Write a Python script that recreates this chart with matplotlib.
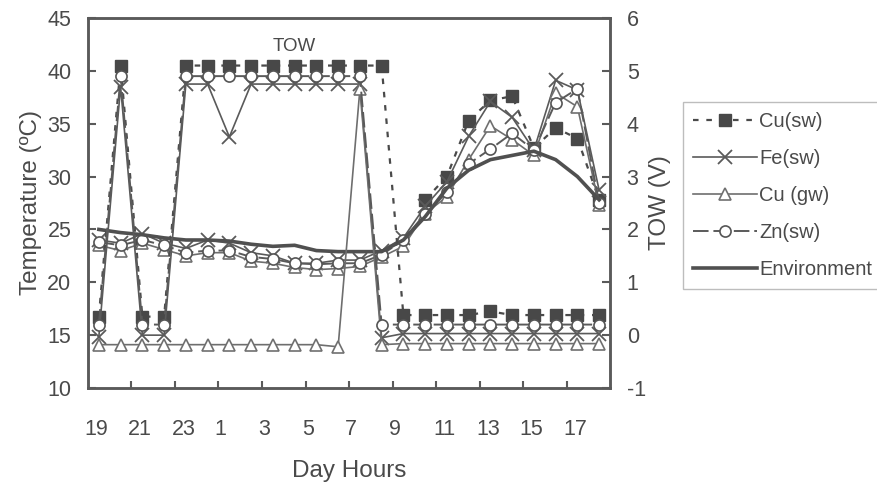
import numpy as np
import matplotlib.pyplot as plt
from matplotlib.ticker import FixedLocator

plt.rcParams['font.family'] = ['Liberation Sans', 'DejaVu Sans']
plt.rcParams['axes.unicode_minus'] = False

# hour of day for each reading (19:00 to 18:00 next day)
hours = [19, 20, 21, 22, 23, 0, 1, 2, 3, 4, 5, 6, 7, 8, 9, 10, 11, 12, 13, 14, 15, 16, 17, 18]
tick_hours = ['19', '21', '23', '1', '3', '5', '7', '9', '11', '13', '15', '17']

# surface / ambient temperature (deg C)
nan = np.nan
temp_cu_sw = [nan, nan, nan, nan, nan, nan, nan, nan, nan, nan, nan, nan, nan, nan, nan,
              27.8, 30.0, 35.3, 37.2, 37.6, 32.7, 34.6, 33.6, 27.8]
temp_fe_sw = [24.0, 23.7, 24.6, 23.7, 23.2, 24.0, 23.7, 22.8, 22.5, 21.8, 21.8, 22.1, 22.1, 23.0,
              24.2, 27.2, 29.5, 33.8, 37.1, 35.6, 32.5, 39.1, 38.2, 28.7]
temp_cu_gw = [23.5, 23.0, 23.7, 23.1, 22.5, 22.8, 22.8, 22.0, 21.8, 21.4, 21.2, 21.3, 21.5, 22.4,
              23.4, 26.5, 28.1, 31.6, 34.8, 33.5, 32.0, 37.9, 36.6, 27.3]
temp_zn_sw = [23.8, 23.5, 24.0, 23.5, 22.8, 23.0, 23.0, 22.4, 22.2, 21.8, 21.7, 21.8, 21.8, 22.6,
              24.0, 26.5, 28.5, 31.2, 32.6, 34.1, 32.5, 37.0, 38.3, 27.5]
temp_env = [25.0, 24.7, 24.5, 24.2, 24.0, 24.0, 23.9, 23.6, 23.4, 23.5, 23.0, 22.9, 22.9, 22.9,
            24.0, 26.2, 28.9, 30.6, 31.6, 32.0, 32.4, 31.6, 30.0, 27.8]

# time of wetness sensor output (V)
tow_cu_sw = [0.35, 5.1, 0.35, 0.35, 5.1, 5.1, 5.1, 5.1, 5.1, 5.1, 5.1, 5.1, 5.1, 5.1,
             0.38, 0.38, 0.38, 0.38, 0.45, 0.38, 0.38, 0.38, 0.38, 0.38]
tow_fe_sw = [-0.03, 4.7, 0.0, 0.0, 4.75, 4.75, 3.75, 4.75, 4.75, 4.75, 4.75, 4.75, 4.75, -0.05,
             0.03, 0.03, 0.03, 0.03, 0.03, 0.03, 0.03, 0.03, 0.03, 0.03]
tow_cu_gw = [-0.18, -0.18, -0.18, -0.18, -0.18, -0.18, -0.18, -0.18, -0.18, -0.18, -0.18, -0.22,
             4.65, -0.18, -0.16, -0.16, -0.16, -0.16, -0.16, -0.16, -0.16, -0.16, -0.16, -0.16]
tow_zn_sw = [0.2, 4.9, 0.2, 0.2, 4.9, 4.9, 4.9, 4.9, 4.9, 4.9, 4.9, 4.9, 4.9, 0.2,
             0.2, 0.2, 0.2, 0.2, 0.2, 0.2, 0.2, 0.2, 0.2, 0.2]

x = np.arange(len(hours))
grey = '#5a5a5a'
txt = '#4a4a4a'

fig = plt.figure(figsize=(8.78, 4.82), dpi=100)
ax = fig.add_axes([0.1002, 0.195, 0.5946, 0.7677])
ax2 = ax.twinx()

cu_sw_style = dict(color='#4a4a4a', lw=1.6, ls=(0, (2.5, 3.5)), marker='s', ms=8,
                   mfc='#484848', mec='#484848')
fe_sw_style = dict(color=grey, lw=1.2, marker='x', ms=10, mew=1.3)
cu_gw_style = dict(color='#6e6e6e', lw=1.2, marker='^', ms=8, mfc='white', mec='#707070', mew=1.2)
zn_sw_style = dict(color=grey, lw=1.4, ls=(0, (8, 2.5)), marker='o', ms=8, mfc='white',
                   mec='#555555', mew=1.2)

# temperature curves
l_cu_sw, = ax.plot(x, temp_cu_sw, label='Cu(sw)', **cu_sw_style)
l_fe_sw, = ax.plot(x, temp_fe_sw, label='Fe(sw)', **fe_sw_style)
l_cu_gw, = ax.plot(x, temp_cu_gw, label='Cu (gw)', **cu_gw_style)
l_zn_sw, = ax.plot(x, temp_zn_sw, label='Zn(sw)', **zn_sw_style)
l_env, = ax.plot(x, temp_env, label='Environment', color='#505050', lw=2.6)

# TOW curves
ax2.plot(x, tow_cu_sw, **cu_sw_style)
ax2.plot(x, tow_fe_sw, **fe_sw_style)
ax2.plot(x, tow_cu_gw, **cu_gw_style)
ax2.plot(x, tow_zn_sw, **zn_sw_style)

ax.set_xlim(-0.5, 23.5)
ax.set_ylim(10, 45)
ax2.set_ylim(-1, 6)
ax.set_yticks(range(10, 46, 5))
ax2.set_yticks(range(-1, 7))

# hour labels sit on every second reading, single digits drawn a bit to the left
label_pos = [i * 2 - (0.4 if len(h) == 1 else 0.1) for i, h in enumerate(tick_hours)]
ax.set_xticks(label_pos)
ax.set_xticklabels(tick_hours)
ax.xaxis.set_minor_locator(FixedLocator(np.arange(1.5, 23, 2)))
ax.tick_params(axis='x', which='major', length=0, pad=22, labelsize=15.5, labelcolor=txt)
ax.tick_params(axis='x', which='minor', direction='in', length=5, width=1.5, color=grey)
ax.tick_params(axis='y', direction='in', length=6, width=1.5, color=grey, pad=12,
               labelsize=15.5, labelcolor=txt)
ax2.tick_params(axis='y', direction='in', length=6, width=1.5, color=grey, pad=12,
                labelsize=15.5, labelcolor=txt)

for a in (ax, ax2):
    for s in a.spines.values():
        s.set_color(grey)
        s.set_linewidth(1.8)

ax.set_xlabel('Day Hours', fontsize=17.5, color=txt, labelpad=15)
ax.set_ylabel('Temperature (ºC)', fontsize=17.5, color=txt, labelpad=4)
ax2.set_ylabel('TOW (V)', fontsize=17.5, color=txt, labelpad=2)

ax.text(9, 42.3, 'TOW', fontsize=13.5, color=txt, ha='center', va='center')

leg = fig.legend(handles=[l_cu_sw, l_fe_sw, l_cu_gw, l_zn_sw, l_env],
                 loc='center', bbox_to_anchor=(0.8915, 0.5944), fontsize=14.5,
                 handlelength=3.2, handletextpad=0.1, labelspacing=0.9, borderpad=0.5,
                 fancybox=False, framealpha=1, edgecolor='#bdbdbd')
for t in leg.get_texts():
    t.set_color(txt)
leg.get_frame().set_linewidth(1.0)

fig.savefig('out.png', dpi=100)
